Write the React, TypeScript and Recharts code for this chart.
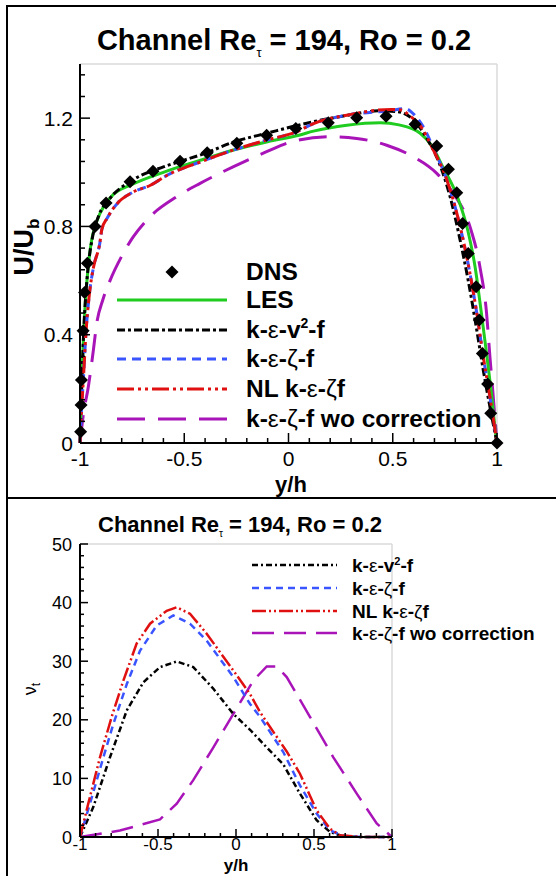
import React from 'react';
import { ComposedChart, Line, Scatter, XAxis, YAxis, CartesianGrid } from 'recharts';

const FONT = '"Liberation Sans", Arial, Helvetica, sans-serif';

// ---------- Top panel: U/Ub ----------
const dnsX = [-0.997, -0.995, -0.993, -0.985, -0.978, -0.965, -0.928, -0.875, -0.76, -0.65, -0.52, -0.39, -0.248, -0.105, 0.035, 0.191, 0.327, 0.468, 0.607, 0.711, 0.767, 0.807, 0.835, 0.862, 0.9, 0.915, 0.93, 0.955, 0.97, 1.0];
const dnsY = [0.042, 0.14, 0.233, 0.415, 0.556, 0.664, 0.8, 0.887, 0.965, 1.004, 1.041, 1.072, 1.107, 1.137, 1.162, 1.183, 1.201, 1.207, 1.177, 1.097, 1.011, 0.924, 0.811, 0.7, 0.577, 0.454, 0.331, 0.218, 0.11, 0.0];

const lesX = [-1, -0.993, -0.985, -0.976, -0.962, -0.944, -0.928, -0.904, -0.85, -0.75, -0.6, -0.4, -0.25, -0.1, 0.05, 0.12, 0.28, 0.44, 0.53, 0.63, 0.69, 0.74, 0.81, 0.86, 0.895, 0.925, 0.95, 0.975, 0.99, 1];
const lesY = [0, 0.2, 0.36, 0.5, 0.64, 0.75, 0.8, 0.848, 0.91, 0.955, 1.0, 1.05, 1.085, 1.113, 1.137, 1.152, 1.174, 1.183, 1.175, 1.145, 1.095, 1.02, 0.91, 0.785, 0.65, 0.48, 0.33, 0.17, 0.06, 0];

const v2fX = [-1, -0.992, -0.983, -0.972, -0.958, -0.94, -0.91, -0.86, -0.75, -0.6, -0.5, -0.4, -0.27, -0.1, 0.12, 0.28, 0.44, 0.52, 0.6, 0.66, 0.73, 0.775, 0.823, 0.862, 0.903, 0.934, 0.966, 1];
const v2fY = [0, 0.2, 0.4, 0.55, 0.67, 0.76, 0.84, 0.9, 0.97, 1.02, 1.045, 1.07, 1.11, 1.145, 1.187, 1.21, 1.227, 1.224, 1.193, 1.13, 1.02, 0.91, 0.75, 0.6, 0.417, 0.27, 0.134, 0];

const zetaX = [-1, -0.993, -0.984, -0.972, -0.955, -0.935, -0.905, -0.895, -0.87, -0.82, -0.75, -0.66, -0.58, -0.42, -0.265, -0.105, 0.04, 0.12, 0.28, 0.49, 0.56, 0.6, 0.645, 0.7, 0.76, 0.823, 0.87, 0.903, 0.934, 0.966, 1];
const zetaY = [0, 0.12, 0.233, 0.4, 0.55, 0.65, 0.738, 0.79, 0.83, 0.886, 0.925, 0.953, 0.99, 1.039, 1.082, 1.119, 1.15, 1.18, 1.211, 1.228, 1.235, 1.215, 1.17, 1.08, 0.971, 0.8, 0.628, 0.48, 0.319, 0.171, 0];

const nlX = [-1, -0.993, -0.984, -0.972, -0.955, -0.935, -0.905, -0.895, -0.87, -0.82, -0.75, -0.66, -0.58, -0.42, -0.265, -0.105, 0.04, 0.12, 0.28, 0.49, 0.54, 0.58, 0.63, 0.695, 0.76, 0.823, 0.87, 0.903, 0.934, 0.966, 1];
const nlY = [0, 0.12, 0.233, 0.4, 0.55, 0.65, 0.738, 0.79, 0.83, 0.886, 0.925, 0.953, 0.99, 1.039, 1.082, 1.119, 1.15, 1.18, 1.211, 1.232, 1.23, 1.21, 1.174, 1.082, 0.971, 0.8, 0.628, 0.48, 0.319, 0.171, 0];

const woX = [-1, -0.985, -0.96, -0.936, -0.92, -0.89, -0.856, -0.8, -0.744, -0.664, -0.536, -0.424, -0.266, -0.105, 0.03, 0.2, 0.327, 0.471, 0.599, 0.711, 0.791, 0.87, 0.918, 0.95, 0.966, 0.982, 1];
const woY = [0, 0.1, 0.208, 0.342, 0.441, 0.53, 0.6, 0.69, 0.762, 0.836, 0.91, 0.959, 1.02, 1.076, 1.116, 1.131, 1.125, 1.1, 1.057, 0.996, 0.922, 0.8, 0.651, 0.479, 0.319, 0.171, 0];

// ---------- Bottom panel: nu_t ----------
const bV2fX = [-1, -0.915, -0.808, -0.7, -0.594, -0.487, -0.38, -0.274, -0.145, -0.017, 0.09, 0.2, 0.303, 0.41, 0.517, 0.603, 0.688, 0.8, 1];
const bV2fY = [0, 5.1, 13.6, 21.6, 26.4, 29.0, 29.95, 29.0, 25.3, 21.0, 18.3, 15.2, 12.4, 7.4, 2.85, 0.85, 0.1, 0, 0];

const bZetaX = [-1, -0.936, -0.85, -0.786, -0.7, -0.615, -0.508, -0.402, -0.295, -0.188, -0.017, 0.09, 0.154, 0.303, 0.41, 0.517, 0.603, 0.69, 0.8, 1];
const bZetaY = [0, 5.7, 13.6, 19.3, 26.1, 31.8, 36.1, 37.8, 36.4, 33.5, 27.3, 22.7, 20.5, 14.5, 8.8, 4.0, 1.1, 0.2, 0, 0];

const bNlX = [-1, -0.947, -0.872, -0.797, -0.722, -0.637, -0.551, -0.444, -0.38, -0.295, -0.188, -0.017, 0.09, 0.154, 0.325, 0.41, 0.517, 0.603, 0.667, 0.8, 1];
const bNlY = [0, 5.7, 13.6, 20.5, 26.7, 33.0, 36.4, 38.6, 39.2, 38.1, 34.7, 28.4, 24.4, 21.3, 14.6, 10.8, 4.55, 1.4, 0.3, 0, 0];

const bWoX = [-1, -0.744, -0.487, -0.38, -0.274, -0.145, -0.017, 0.111, 0.197, 0.261, 0.325, 0.474, 0.624, 0.774, 0.902, 0.987, 1];
const bWoY = [0, 1.1, 3.0, 5.7, 9.7, 15.3, 21.0, 26.7, 29.1, 29.1, 27.3, 20.5, 13.6, 7.4, 2.3, 0.3, 0];

// ---------- Ticks ----------
const xTicks = [-1, -0.9, -0.8, -0.7, -0.6, -0.5, -0.4, -0.3, -0.2, -0.1, 0, 0.1, 0.2, 0.3, 0.4, 0.5, 0.6, 0.7, 0.8, 0.9, 1];
const xMajor = [-1, -0.5, 0, 0.5, 1];
const xLabels = ['-1', '-0.5', '0', '0.5', '1'];
const gridX = [-0.5, 0, 0.5, 1];

const topYTicks = [0, 0.08, 0.16, 0.24, 0.32, 0.4, 0.48, 0.56, 0.64, 0.72, 0.8, 0.88, 0.96, 1.04, 1.12, 1.2, 1.28, 1.36];
const topYMajor = [0, 0.4, 0.8, 1.2];
const topYLabels = ['0', '0.4', '0.8', '1.2'];
const topGridY = [0.4, 0.8, 1.2];

const botYTicks = [0, 2, 4, 6, 8, 10, 12, 14, 16, 18, 20, 22, 24, 26, 28, 30, 32, 34, 36, 38, 40, 42, 44, 46, 48, 50];
const botYMajor = [0, 10, 20, 30, 40, 50];
const botYLabels = ['0', '10', '20', '30', '40', '50'];
const botGridY = [10, 20, 30, 40, 50];

// ---------- Series styles ----------
const C_GREEN = '#1fcc1f';
const C_BLUE = '#3a55ff';
const C_RED = '#e01010';
const C_PURPLE = '#a814b8';

const topNames = ['DNS', 'LES', 'k-ε-v²-f', 'k-ε-ζ-f', 'NL k-ε-ζf', 'k-ε-ζ-f wo correction'];
const topColors = ['#000', C_GREEN, '#000', C_BLUE, C_RED, C_PURPLE];
const topDash = ['', '', '8 3 3 3', '9 6', '17 4 3 4 3 4', '28 13'];

const botNames = ['k-ε-v²-f', 'k-ε-ζ-f', 'NL k-ε-ζf', 'k-ε-ζ-f wo correction'];
const botColors = ['#000', C_BLUE, C_RED, C_PURPLE];
const botDash = ['6 3 2 3', '7 5', '14 3 2 3 2 3', '22 10'];

const pts = (xs: number[], ys: number[]) => xs.map((x, i) => ({ x, y: ys[i] }));

const findIdx = (arr: number[], v: number) => arr.findIndex((m) => Math.abs(m - v) < 1e-9);

function makeXTick(majors: number[], labels: string[], fs: number, majLen: number, minLen: number, dy: number) {
  return (props: any) => {
    const { x, y, payload } = props;
    const idx = findIdx(majors, payload.value);
    const major = idx >= 0;
    return (
      <g>
        <line x1={x} x2={x} y1={y} y2={y - (major ? majLen : minLen)} stroke="#000" strokeWidth={1.5} />
        {major && (
          <text x={x} y={y + dy} textAnchor="middle" fontSize={fs} fontFamily={FONT} fill="#000">
            {labels[idx]}
          </text>
        )}
      </g>
    );
  };
}

function makeYTick(majors: number[], labels: string[], fs: number, majLen: number, minLen: number, dx: number, dy: number) {
  return (props: any) => {
    const { x, y, payload } = props;
    const idx = findIdx(majors, payload.value);
    const major = idx >= 0;
    return (
      <g>
        <line x1={x} x2={x + (major ? majLen : minLen)} y1={y} y2={y} stroke="#000" strokeWidth={1.5} />
        {major && (
          <text x={x - dx} y={y + dy} textAnchor="end" fontSize={fs} fontFamily={FONT} fill="#000">
            {labels[idx]}
          </text>
        )}
      </g>
    );
  };
}

const Diamond = (props: any) => {
  const { cx, cy } = props;
  const r = 6.5;
  return <polygon points={`${cx},${cy - r} ${cx + r},${cy} ${cx},${cy + r} ${cx - r},${cy}`} fill="#000" />;
};

function renderLabel(name: string, supSize: number, supShift: number) {
  const parts: React.ReactNode[] = [];
  let buf = '';
  let k = 0;
  const flush = () => {
    if (buf) {
      parts.push(<tspan key={k++}>{buf}</tspan>);
      buf = '';
    }
  };
  let pendingDy = 0;
  for (const ch of name) {
    if (ch === 'ε' || ch === 'ζ') {
      flush();
      parts.push(
        <tspan key={k++} fontWeight="normal" dy={pendingDy || undefined}>
          {ch}
        </tspan>
      );
      pendingDy = 0;
    } else if (ch === '²') {
      flush();
      parts.push(
        <tspan key={k++} fontSize={supSize} dy={-supShift}>
          2
        </tspan>
      );
      pendingDy = supShift;
    } else {
      if (pendingDy) {
        parts.push(
          <tspan key={k++} dy={pendingDy}>
            {ch}
          </tspan>
        );
        pendingDy = 0;
      } else buf += ch;
    }
  }
  flush();
  return parts;
}

const topTickX = makeXTick(xMajor, xLabels, 21, 10, 5, 23);
const topTickY = makeYTick(topYMajor, topYLabels, 21, 10, 5, 7, 7.5);
const botTickX = makeXTick(xMajor, xLabels, 17, 8, 4, 13);
const botTickY = makeYTick(botYMajor, botYLabels, 18, 8, 4, 8, 6.5);

export default function App() {
  const topSeries = [pts(lesX, lesY), pts(v2fX, v2fY), pts(zetaX, zetaY), pts(nlX, nlY), pts(woX, woY)];
  const botSeries = [pts(bV2fX, bV2fY), pts(bZetaX, bZetaY), pts(bNlX, bNlY), pts(bWoX, bWoY)];
  const dns = pts(dnsX, dnsY);

  // draw order: wo correction (back), LES, v2f, zeta, NL
  const topOrder = [4, 0, 1, 2, 3];
  const botOrder = [3, 0, 1, 2];

  const topLegendRows = [272, 300, 330, 359, 389, 419];
  const botLegendRows = [565, 588, 611, 633];

  return (
    <div style={{ position: 'absolute', left: 0, top: 0, width: 556, height: 876, background: '#fff', overflow: 'hidden' }}>
      <div style={{ position: 'absolute', left: 0, top: 0 }}>
        <ComposedChart width={556} height={498} margin={{ top: 64, right: 59, bottom: 0, left: 0 }}>
          <XAxis xAxisId="g" type="number" domain={[-1, 1]} ticks={gridX} hide />
          <YAxis yAxisId="g" type="number" domain={[0, 1.4]} ticks={topGridY} hide />
          <CartesianGrid xAxisId="g" yAxisId="g" stroke="#dadada" strokeWidth={1.5} />
          <XAxis
            dataKey="x"
            type="number"
            domain={[-1, 1]}
            ticks={xTicks}
            interval={0}
            height={55}
            tickSize={0}
            tickMargin={0}
            tickLine={false}
            axisLine={{ stroke: '#000', strokeWidth: 2 }}
            tick={topTickX}
          />
          <YAxis
            dataKey="y"
            type="number"
            domain={[0, 1.4]}
            ticks={topYTicks}
            interval={0}
            width={80}
            tickSize={0}
            tickMargin={0}
            tickLine={false}
            axisLine={{ stroke: '#000', strokeWidth: 2 }}
            tick={topTickY}
          />
          {topOrder.map((si) => (
            <Line
              key={'t' + si}
              data={topSeries[si]}
              dataKey="y"
              type="monotone"
              stroke={topColors[si + 1]}
              strokeWidth={3}
              strokeDasharray={topDash[si + 1] || undefined}
              dot={false}
              activeDot={false}
              isAnimationActive={false}
            />
          ))}
          <Scatter data={dns} dataKey="y" shape={Diamond} isAnimationActive={false} />
        </ComposedChart>
      </div>

      <div style={{ position: 'absolute', left: 0, top: 498 }}>
        <ComposedChart width={556} height={378} margin={{ top: 46, right: 164, bottom: 0, left: 0 }}>
          <XAxis xAxisId="g" type="number" domain={[-1, 1]} ticks={gridX} hide />
          <YAxis yAxisId="g" type="number" domain={[0, 50]} ticks={botGridY} hide />
          <CartesianGrid xAxisId="g" yAxisId="g" stroke="#dadada" strokeWidth={1.5} />
          <XAxis
            dataKey="x"
            type="number"
            domain={[-1, 1]}
            ticks={xTicks}
            interval={0}
            height={39}
            tickSize={0}
            tickMargin={0}
            tickLine={false}
            axisLine={{ stroke: '#000', strokeWidth: 2 }}
            tick={botTickX}
          />
          <YAxis
            dataKey="y"
            type="number"
            domain={[0, 50]}
            ticks={botYTicks}
            interval={0}
            width={80}
            tickSize={0}
            tickMargin={0}
            tickLine={false}
            axisLine={{ stroke: '#000', strokeWidth: 2 }}
            tick={botTickY}
          />
          {botOrder.map((si) => (
            <Line
              key={'b' + si}
              data={botSeries[si]}
              dataKey="y"
              type="linear"
              stroke={botColors[si]}
              strokeWidth={2.5}
              strokeDasharray={botDash[si]}
              dot={false}
              activeDot={false}
              isAnimationActive={false}
            />
          ))}
        </ComposedChart>
      </div>

      <svg width={556} height={876} style={{ position: 'absolute', left: 0, top: 0, pointerEvents: 'none' }}>
        {/* frame */}
        <line x1={6} y1={6} x2={556} y2={6} stroke="#000" strokeWidth={2} />
        <line x1={7} y1={6} x2={7} y2={876} stroke="#000" strokeWidth={2} />
        <line x1={6} y1={498} x2={556} y2={498} stroke="#000" strokeWidth={2} />

        {/* top title */}
        <text x={284} y={50} textAnchor="middle" fontFamily={FONT} fontWeight="bold" fontSize={29} fill="#000">
          Channel Re
          <tspan fontSize={13} fontWeight="normal" dy={7}>τ</tspan>
          <tspan dy={-7}> = 194, Ro = 0.2</tspan>
        </text>
        {/* top axis titles */}
        <text x={291} y={492} textAnchor="middle" fontFamily={FONT} fontWeight="bold" fontSize={22} fill="#000">y/h</text>
        <text transform="translate(33,247) rotate(-90)" textAnchor="middle" fontFamily={FONT} fontWeight="bold" fontSize={27} fill="#000">
          U/U<tspan fontSize={17} dy={6}>b</tspan>
        </text>

        {/* top legend */}
        {topNames.map((n, i) => (
          <g key={'tl' + i}>
            {i === 0 ? (
              <Diamond cx={172} cy={topLegendRows[i]} />
            ) : (
              <line x1={117} x2={227} y1={topLegendRows[i]} y2={topLegendRows[i]} stroke={topColors[i]} strokeWidth={3} strokeDasharray={topDash[i] || undefined} />
            )}
            <text x={246} y={topLegendRows[i] + 8} fontFamily={FONT} fontWeight="bold" fontSize={24.5} fill="#000">
              {renderLabel(n, 14, 10)}
            </text>
          </g>
        ))}

        {/* bottom title */}
        <text x={240} y={532} textAnchor="middle" fontFamily={FONT} fontWeight="bold" fontSize={22} fill="#000">
          Channel Re
          <tspan fontSize={10} fontWeight="normal" dy={5}>τ</tspan>
          <tspan dy={-5}> = 194, Ro = 0.2</tspan>
        </text>
        <text x={236} y={871} textAnchor="middle" fontFamily={FONT} fontWeight="bold" fontSize={17} fill="#000">y/h</text>
        <text transform="translate(36,689) rotate(-90)" textAnchor="middle" fontFamily={FONT} fontSize={18} fill="#000">
          ν<tspan fontSize={12} dy={4}>t</tspan>
        </text>

        {/* bottom legend */}
        {botNames.map((n, i) => (
          <g key={'bl' + i}>
            <line x1={252} x2={337} y1={botLegendRows[i]} y2={botLegendRows[i]} stroke={botColors[i]} strokeWidth={2.5} strokeDasharray={botDash[i]} />
            <text x={352} y={botLegendRows[i] + 6.5} fontFamily={FONT} fontWeight="bold" fontSize={19} fill="#000">
              {renderLabel(n, 11, 7)}
            </text>
          </g>
        ))}
      </svg>
    </div>
  );
}
